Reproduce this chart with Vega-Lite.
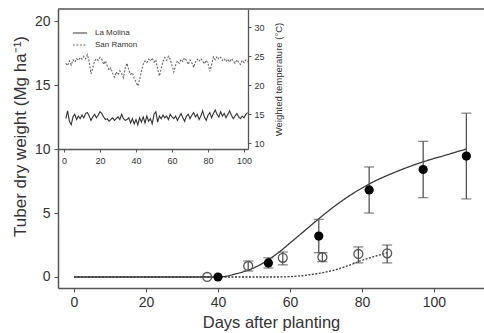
{
  "$schema": "https://vega.github.io/schema/vega-lite/v6.json",
  "autosize": {"type": "none"},
  "padding": {"left": 58, "top": 9, "right": 0, "bottom": 45},
  "width": 426,
  "height": 279,
  "config": {
    "view": {"stroke": null},
    "font": "Liberation Sans",
    "axis": {"domainColor": "#555", "domainWidth": 1.5, "tickColor": "#555", "grid": false, "labelColor": "#333", "titleColor": "#333", "labelFont": "Liberation Sans", "titleFont": "Liberation Sans", "titleFontWeight": "normal"}
  },
  "datasets": {
    "pts": [
      {"site": "La Molina", "day": 40, "mean": 0, "lo": null, "hi": null},
      {"site": "La Molina", "day": 54, "mean": 1.1, "lo": 0.7, "hi": 1.5},
      {"site": "La Molina", "day": 68, "mean": 3.2, "lo": 1.9, "hi": 4.5},
      {"site": "La Molina", "day": 82, "mean": 6.8, "lo": 5.0, "hi": 8.6},
      {"site": "La Molina", "day": 97, "mean": 8.4, "lo": 6.2, "hi": 10.6},
      {"site": "La Molina", "day": 109, "mean": 9.45, "lo": 6.1, "hi": 12.8},
      {"site": "San Ramon", "day": 37, "mean": 0, "lo": null, "hi": null},
      {"site": "San Ramon", "day": 48.4, "mean": 0.86, "lo": 0.47, "hi": 1.25},
      {"site": "San Ramon", "day": 58, "mean": 1.5, "lo": 0.95, "hi": 1.95},
      {"site": "San Ramon", "day": 69, "mean": 1.55, "lo": 1.2, "hi": 1.9},
      {"site": "San Ramon", "day": 79, "mean": 1.8, "lo": 1.1, "hi": 2.35},
      {"site": "San Ramon", "day": 87, "mean": 1.85, "lo": 1.1, "hi": 2.5}
    ],
    "fits": [
      {"site": "La Molina", "day": 0, "fit": 0},
      {"site": "La Molina", "day": 40, "fit": 0},
      {"site": "La Molina", "day": 42, "fit": 0.05},
      {"site": "La Molina", "day": 45, "fit": 0.25},
      {"site": "La Molina", "day": 48, "fit": 0.5},
      {"site": "La Molina", "day": 51, "fit": 0.85},
      {"site": "La Molina", "day": 54, "fit": 1.35},
      {"site": "La Molina", "day": 57, "fit": 1.95},
      {"site": "La Molina", "day": 60, "fit": 2.65},
      {"site": "La Molina", "day": 64, "fit": 3.6},
      {"site": "La Molina", "day": 68, "fit": 4.55},
      {"site": "La Molina", "day": 72, "fit": 5.45},
      {"site": "La Molina", "day": 76, "fit": 6.25},
      {"site": "La Molina", "day": 80, "fit": 6.95},
      {"site": "La Molina", "day": 84, "fit": 7.55},
      {"site": "La Molina", "day": 88, "fit": 8.05},
      {"site": "La Molina", "day": 92, "fit": 8.5},
      {"site": "La Molina", "day": 97, "fit": 9.0},
      {"site": "La Molina", "day": 103, "fit": 9.5},
      {"site": "La Molina", "day": 109, "fit": 10.0},
      {"site": "San Ramon", "day": 0, "fit": 0},
      {"site": "San Ramon", "day": 56, "fit": 0},
      {"site": "San Ramon", "day": 60, "fit": 0.03},
      {"site": "San Ramon", "day": 64, "fit": 0.12},
      {"site": "San Ramon", "day": 68, "fit": 0.28},
      {"site": "San Ramon", "day": 72, "fit": 0.52},
      {"site": "San Ramon", "day": 76, "fit": 0.87},
      {"site": "San Ramon", "day": 80, "fit": 1.3},
      {"site": "San Ramon", "day": 84, "fit": 1.65},
      {"site": "San Ramon", "day": 87, "fit": 1.9}
    ],
    "temps": [
      {"site":"La Molina","day":1,"temp":14.25},{"site":"La Molina","day":2,"temp":15.6},{"site":"La Molina","day":3,"temp":13.8},{"site":"La Molina","day":4,"temp":13.2},{"site":"La Molina","day":5,"temp":14.55},{"site":"La Molina","day":6,"temp":15.0},{"site":"La Molina","day":7,"temp":14.1},{"site":"La Molina","day":8,"temp":14.7},{"site":"La Molina","day":9,"temp":14.25},{"site":"La Molina","day":10,"temp":14.85},
      {"site":"La Molina","day":11,"temp":14.4},{"site":"La Molina","day":12,"temp":15.15},{"site":"La Molina","day":13,"temp":15.3},{"site":"La Molina","day":14,"temp":14.7},{"site":"La Molina","day":15,"temp":13.95},{"site":"La Molina","day":16,"temp":14.55},{"site":"La Molina","day":17,"temp":15.0},{"site":"La Molina","day":18,"temp":14.4},{"site":"La Molina","day":19,"temp":14.85},{"site":"La Molina","day":20,"temp":15.45},
      {"site":"La Molina","day":21,"temp":15.15},{"site":"La Molina","day":22,"temp":14.55},{"site":"La Molina","day":23,"temp":14.1},{"site":"La Molina","day":24,"temp":14.25},{"site":"La Molina","day":25,"temp":13.8},{"site":"La Molina","day":26,"temp":14.1},{"site":"La Molina","day":27,"temp":14.4},{"site":"La Molina","day":28,"temp":13.95},{"site":"La Molina","day":29,"temp":14.25},{"site":"La Molina","day":30,"temp":14.55},
      {"site":"La Molina","day":31,"temp":14.1},{"site":"La Molina","day":32,"temp":15.0},{"site":"La Molina","day":33,"temp":14.25},{"site":"La Molina","day":34,"temp":13.95},{"site":"La Molina","day":35,"temp":14.1},{"site":"La Molina","day":36,"temp":14.4},{"site":"La Molina","day":37,"temp":13.5},{"site":"La Molina","day":38,"temp":14.25},{"site":"La Molina","day":39,"temp":13.35},{"site":"La Molina","day":40,"temp":14.1},
      {"site":"La Molina","day":41,"temp":13.2},{"site":"La Molina","day":42,"temp":14.4},{"site":"La Molina","day":43,"temp":13.65},{"site":"La Molina","day":44,"temp":14.55},{"site":"La Molina","day":45,"temp":13.5},{"site":"La Molina","day":46,"temp":14.7},{"site":"La Molina","day":47,"temp":13.8},{"site":"La Molina","day":48,"temp":14.25},{"site":"La Molina","day":49,"temp":13.35},{"site":"La Molina","day":50,"temp":15.0},
      {"site":"La Molina","day":51,"temp":15.45},{"site":"La Molina","day":52,"temp":13.65},{"site":"La Molina","day":53,"temp":14.7},{"site":"La Molina","day":54,"temp":14.25},{"site":"La Molina","day":55,"temp":14.85},{"site":"La Molina","day":56,"temp":14.4},{"site":"La Molina","day":57,"temp":14.7},{"site":"La Molina","day":58,"temp":14.1},{"site":"La Molina","day":59,"temp":15.0},{"site":"La Molina","day":60,"temp":14.55},
      {"site":"La Molina","day":61,"temp":14.25},{"site":"La Molina","day":62,"temp":14.7},{"site":"La Molina","day":63,"temp":13.95},{"site":"La Molina","day":64,"temp":14.55},{"site":"La Molina","day":65,"temp":15.15},{"site":"La Molina","day":66,"temp":14.4},{"site":"La Molina","day":67,"temp":13.8},{"site":"La Molina","day":68,"temp":14.7},{"site":"La Molina","day":69,"temp":15.0},{"site":"La Molina","day":70,"temp":14.25},
      {"site":"La Molina","day":71,"temp":14.85},{"site":"La Molina","day":72,"temp":15.3},{"site":"La Molina","day":73,"temp":14.55},{"site":"La Molina","day":74,"temp":15.0},{"site":"La Molina","day":75,"temp":14.1},{"site":"La Molina","day":76,"temp":14.7},{"site":"La Molina","day":77,"temp":15.6},{"site":"La Molina","day":78,"temp":14.55},{"site":"La Molina","day":79,"temp":13.95},{"site":"La Molina","day":80,"temp":14.85},
      {"site":"La Molina","day":81,"temp":15.3},{"site":"La Molina","day":82,"temp":14.4},{"site":"La Molina","day":83,"temp":15.15},{"site":"La Molina","day":84,"temp":15.75},{"site":"La Molina","day":85,"temp":15.0},{"site":"La Molina","day":86,"temp":14.55},{"site":"La Molina","day":87,"temp":15.45},{"site":"La Molina","day":88,"temp":14.7},{"site":"La Molina","day":89,"temp":15.15},{"site":"La Molina","day":90,"temp":14.4},
      {"site":"La Molina","day":91,"temp":15.0},{"site":"La Molina","day":92,"temp":15.6},{"site":"La Molina","day":93,"temp":14.85},{"site":"La Molina","day":94,"temp":14.25},{"site":"La Molina","day":95,"temp":14.7},{"site":"La Molina","day":96,"temp":15.15},{"site":"La Molina","day":97,"temp":14.55},{"site":"La Molina","day":98,"temp":14.25},{"site":"La Molina","day":99,"temp":14.7},{"site":"La Molina","day":100,"temp":14.4},
      {"site":"La Molina","day":101,"temp":15.0},{"site":"La Molina","day":102,"temp":15.3},
      {"site":"San Ramon","day":1,"temp":23.8},{"site":"San Ramon","day":2,"temp":23.4},{"site":"San Ramon","day":3,"temp":24.2},{"site":"San Ramon","day":4,"temp":23.5},{"site":"San Ramon","day":5,"temp":24.4},{"site":"San Ramon","day":6,"temp":24.0},{"site":"San Ramon","day":7,"temp":24.6},{"site":"San Ramon","day":8,"temp":24.3},{"site":"San Ramon","day":9,"temp":24.8},{"site":"San Ramon","day":10,"temp":24.5},
      {"site":"San Ramon","day":11,"temp":25.0},{"site":"San Ramon","day":12,"temp":24.6},{"site":"San Ramon","day":13,"temp":25.3},{"site":"San Ramon","day":14,"temp":24.1},{"site":"San Ramon","day":15,"temp":22.0},{"site":"San Ramon","day":16,"temp":23.0},{"site":"San Ramon","day":17,"temp":24.2},{"site":"San Ramon","day":18,"temp":24.6},{"site":"San Ramon","day":19,"temp":24.3},{"site":"San Ramon","day":20,"temp":24.8},
      {"site":"San Ramon","day":21,"temp":24.5},{"site":"San Ramon","day":22,"temp":23.6},{"site":"San Ramon","day":23,"temp":24.2},{"site":"San Ramon","day":24,"temp":23.4},{"site":"San Ramon","day":25,"temp":22.6},{"site":"San Ramon","day":26,"temp":23.0},{"site":"San Ramon","day":27,"temp":22.1},{"site":"San Ramon","day":28,"temp":21.4},{"site":"San Ramon","day":29,"temp":22.3},{"site":"San Ramon","day":30,"temp":21.8},
      {"site":"San Ramon","day":31,"temp":22.5},{"site":"San Ramon","day":32,"temp":22.0},{"site":"San Ramon","day":33,"temp":21.3},{"site":"San Ramon","day":34,"temp":23.0},{"site":"San Ramon","day":35,"temp":23.8},{"site":"San Ramon","day":36,"temp":22.6},{"site":"San Ramon","day":37,"temp":21.9},{"site":"San Ramon","day":38,"temp":22.2},{"site":"San Ramon","day":39,"temp":21.2},{"site":"San Ramon","day":40,"temp":20.6},
      {"site":"San Ramon","day":41,"temp":19.9},{"site":"San Ramon","day":42,"temp":21.0},{"site":"San Ramon","day":43,"temp":22.5},{"site":"San Ramon","day":44,"temp":23.6},{"site":"San Ramon","day":45,"temp":24.2},{"site":"San Ramon","day":46,"temp":23.9},{"site":"San Ramon","day":47,"temp":24.5},{"site":"San Ramon","day":48,"temp":24.2},{"site":"San Ramon","day":49,"temp":24.7},{"site":"San Ramon","day":50,"temp":24.0},
      {"site":"San Ramon","day":51,"temp":24.4},{"site":"San Ramon","day":52,"temp":22.8},{"site":"San Ramon","day":53,"temp":21.6},{"site":"San Ramon","day":54,"temp":22.9},{"site":"San Ramon","day":55,"temp":24.1},{"site":"San Ramon","day":56,"temp":24.8},{"site":"San Ramon","day":57,"temp":24.3},{"site":"San Ramon","day":58,"temp":25.0},{"site":"San Ramon","day":59,"temp":24.5},{"site":"San Ramon","day":60,"temp":23.4},
      {"site":"San Ramon","day":61,"temp":22.3},{"site":"San Ramon","day":62,"temp":23.5},{"site":"San Ramon","day":63,"temp":24.2},{"site":"San Ramon","day":64,"temp":23.8},{"site":"San Ramon","day":65,"temp":24.5},{"site":"San Ramon","day":66,"temp":24.1},{"site":"San Ramon","day":67,"temp":24.7},{"site":"San Ramon","day":68,"temp":24.3},{"site":"San Ramon","day":69,"temp":23.6},{"site":"San Ramon","day":70,"temp":24.4},
      {"site":"San Ramon","day":71,"temp":23.9},{"site":"San Ramon","day":72,"temp":23.1},{"site":"San Ramon","day":73,"temp":24.0},{"site":"San Ramon","day":74,"temp":24.5},{"site":"San Ramon","day":75,"temp":24.1},{"site":"San Ramon","day":76,"temp":24.6},{"site":"San Ramon","day":77,"temp":24.2},{"site":"San Ramon","day":78,"temp":23.7},{"site":"San Ramon","day":79,"temp":24.3},{"site":"San Ramon","day":80,"temp":23.8},
      {"site":"San Ramon","day":81,"temp":22.4},{"site":"San Ramon","day":82,"temp":23.6},{"site":"San Ramon","day":83,"temp":24.9},{"site":"San Ramon","day":84,"temp":24.4},{"site":"San Ramon","day":85,"temp":25.0},{"site":"San Ramon","day":86,"temp":24.5},{"site":"San Ramon","day":87,"temp":24.8},{"site":"San Ramon","day":88,"temp":24.3},{"site":"San Ramon","day":89,"temp":24.6},{"site":"San Ramon","day":90,"temp":24.1},
      {"site":"San Ramon","day":91,"temp":24.5},{"site":"San Ramon","day":92,"temp":24.0},{"site":"San Ramon","day":93,"temp":24.6},{"site":"San Ramon","day":94,"temp":24.2},{"site":"San Ramon","day":95,"temp":23.8},{"site":"San Ramon","day":96,"temp":24.4},{"site":"San Ramon","day":97,"temp":24.0},{"site":"San Ramon","day":98,"temp":23.6},{"site":"San Ramon","day":99,"temp":24.3},{"site":"San Ramon","day":100,"temp":23.9},
      {"site":"San Ramon","day":101,"temp":24.4},{"site":"San Ramon","day":102,"temp":24.1}
    ]
  },
  "layer": [
    {
      "encoding": {
        "x": {"type": "quantitative", "scale": {"domain": [-4.44, 113.9], "nice": false, "zero": false},
              "axis": {"orient": "bottom", "title": "Days after planting", "values": [0, 20, 40, 60, 80, 100], "labelFontSize": 14, "titleFontSize": 16.5, "tickSize": 4, "labelPadding": 3, "titlePadding": 5}},
        "y": {"type": "quantitative", "scale": {"domain": [-0.86, 20.94], "nice": false, "zero": false},
              "axis": {"orient": "left", "title": "Tuber dry weight  (Mg ha⁻¹)", "values": [0, 5, 10, 15, 20], "labelFontSize": 14, "titleFontSize": 17, "tickSize": 4, "labelPadding": 4, "titlePadding": 5, "titleY": 127}}
      },
      "layer": [
        {"data": {"values": [{}]}, "mark": {"type": "rule", "color": "#555", "strokeWidth": 1.5}, "encoding": {"y": {"datum": 20.94, "type": "quantitative"}}},
        {"data": {"name": "fits"}, "mark": {"type": "line", "strokeWidth": 1.3, "color": "#3a3a3a", "interpolate": "monotone"},
         "encoding": {"x": {"field": "day"}, "y": {"field": "fit"},
                      "strokeDash": {"field": "site", "type": "nominal", "scale": {"domain": ["La Molina", "San Ramon"], "range": [[1, 0], [2, 1.5]]}}}},
        {"data": {"name": "pts"}, "transform": [{"filter": "datum.lo != null"}], "mark": {"type": "rule", "color": "#555", "strokeWidth": 1.3},
         "encoding": {"x": {"field": "day"}, "y": {"field": "lo"}, "y2": {"field": "hi"}}},
        {"data": {"name": "pts"}, "transform": [{"filter": "datum.lo != null"}], "mark": {"type": "tick", "orient": "horizontal", "color": "#555", "size": 10, "thickness": 1.3},
         "encoding": {"x": {"field": "day"}, "y": {"field": "lo"}}},
        {"data": {"name": "pts"}, "transform": [{"filter": "datum.lo != null"}], "mark": {"type": "tick", "orient": "horizontal", "color": "#555", "size": 10, "thickness": 1.3},
         "encoding": {"x": {"field": "day"}, "y": {"field": "hi"}}},
        {"data": {"name": "pts"}, "transform": [{"filter": "datum.site == 'San Ramon'"}], "mark": {"type": "point", "filled": false, "stroke": "#555", "strokeWidth": 1.3, "size": 80, "opacity": 1},
         "encoding": {"x": {"field": "day"}, "y": {"field": "mean"}}},
        {"data": {"name": "pts"}, "transform": [{"filter": "datum.site == 'La Molina'"}], "mark": {"type": "circle", "color": "#000", "size": 85, "opacity": 1},
         "encoding": {"x": {"field": "day"}, "y": {"field": "mean"}}}
      ]
    },
    {
      "data": {"name": "temps"},
      "mark": {"type": "line", "strokeWidth": 1.1},
      "encoding": {
        "x": {"field": "day", "type": "quantitative", "scale": {"domain": [-3.33, 102.2], "range": [0, 190], "nice": false, "zero": false},
              "axis": {"orient": "bottom", "offset": -139, "title": null, "values": [0, 20, 40, 60, 80, 100], "labelFontSize": 9, "tickSize": 3, "labelPadding": 4, "domainWidth": 1.3}},
        "y": {"field": "temp", "type": "quantitative", "scale": {"domain": [9.02, 33.16], "range": [140, 0], "nice": false, "zero": false},
              "axis": {"orient": "right", "offset": -236, "title": "Weighted temperature (°C)", "titleAngle": 270, "titleFontSize": 9.5, "titlePadding": 19, "values": [10, 15, 20, 25, 30], "labelFontSize": 9, "tickSize": 3, "labelPadding": 3, "domainWidth": 1.3}},
        "strokeDash": {"field": "site", "type": "nominal",
                       "legend": {"orient": "none", "legendX": 14, "legendY": 16, "title": null, "symbolType": "stroke", "symbolSize": 200, "symbolStrokeWidth": 1.2, "symbolStrokeColor": "#333", "labelFontSize": 8, "labelColor": "#333", "rowPadding": -4, "labelOffset": 7}},
        "color": {"field": "site", "type": "nominal", "scale": {"domain": ["La Molina", "San Ramon"], "range": ["#333", "#666"]}, "legend": null}
      }
    }
  ],
  "resolve": {"scale": {"x": "independent", "y": "independent"}, "axis": {"x": "independent", "y": "independent"}}
}
